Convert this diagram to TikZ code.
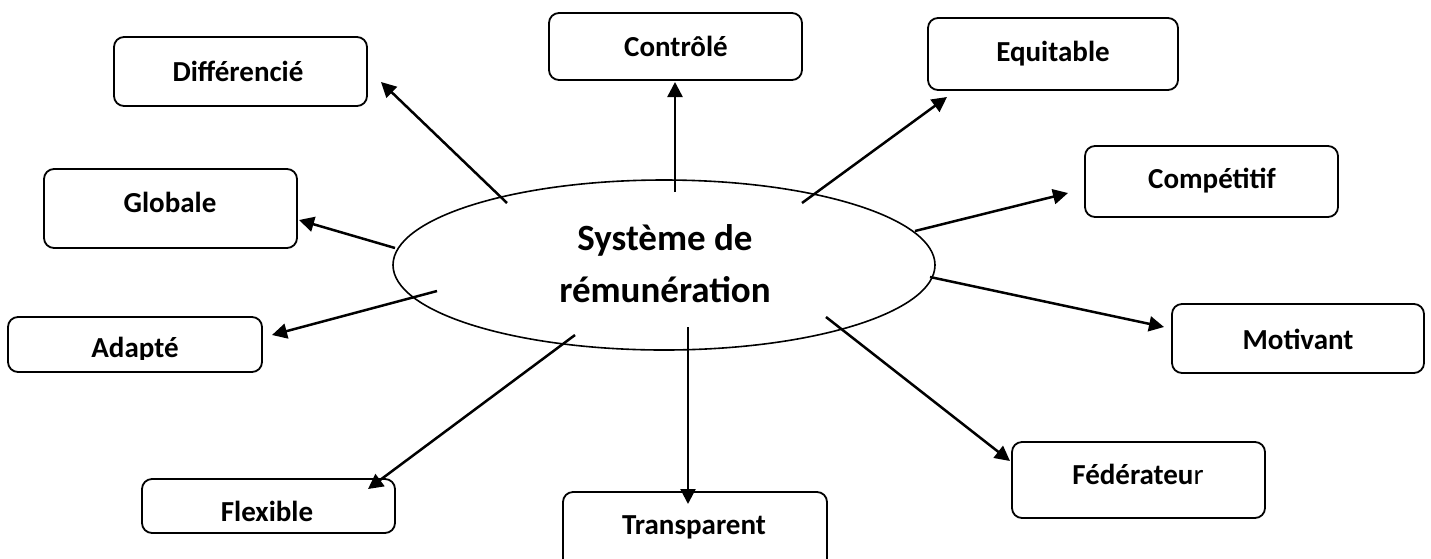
\documentclass[tikz,border=0pt]{standalone}
\usepackage{fontspec}
\setmainfont{Carlito}
\usetikzlibrary{arrows.meta,shapes.geometric}
\begin{document}
\begin{tikzpicture}[x=1pt,y=-1pt,
  box/.style={draw, line width=1.8pt, rounded corners=10pt, inner sep=0pt},
  lbl/.style={font=\fontsize{29}{35}\selectfont\bfseries, inner sep=0pt, anchor=base},
  big/.style={font=\fontsize{37}{50}\selectfont\bfseries, inner sep=0pt, anchor=base},
  conn/.style={line width=2.5pt, -{Triangle[length=15pt,width=15pt]}}]
\clip (0,0) rectangle (1431,558);
\fill[white] (0,0) rectangle (1431,558);
% boxes
\node[box, minimum width=253pt, minimum height=69pt] (bDiff) at (240.5,71.5) {};
\node[box, minimum width=253pt, minimum height=67pt] (bCon) at (675.5,46.5) {};
\node[box, minimum width=250pt, minimum height=72pt] (bEqu) at (1053,54) {};
\node[box, minimum width=253pt, minimum height=71pt] (bCom) at (1211.5,181.5) {};
\node[box, minimum width=253pt, minimum height=79pt] (bGlo) at (170.5,208.5) {};
\node[box, minimum width=254pt, minimum height=55pt] (bAda) at (135,344.5) {};
\node[box, minimum width=252pt, minimum height=69pt] (bMot) at (1298,338.5) {};
\node[box, minimum width=253pt, minimum height=76pt] (bFed) at (1138.5,480) {};
\node[box, minimum width=264pt, minimum height=83pt] (bTra) at (695,533.5) {};
\node[box, minimum width=253pt, minimum height=54pt] (bFle) at (268.5,506) {};
% central ellipse
\node[draw, ellipse, line width=1.6pt, minimum width=542pt, minimum height=170pt, inner sep=0pt] (sys) at (664,265) {};
\node[big] (tSys1) at (665,250) {Système de};
\node[big] (tSys2) at (665,302) {rémunération};
% connector ends
\coordinate (s1) at (507,203);  \coordinate (e1) at (381,82);
\coordinate (s2) at (675,192);  \coordinate (e2) at (675,82);
\coordinate (s3) at (802,203);  \coordinate (e3) at (947,97);
\coordinate (s4) at (915,231);  \coordinate (e4) at (1068,193);
\coordinate (s5) at (395,248);  \coordinate (e5) at (299,220);
\coordinate (s6) at (437,291);  \coordinate (e6) at (272,335);
\coordinate (s7) at (930,277);  \coordinate (e7) at (1164,327);
\coordinate (s8) at (826,317);  \coordinate (e8) at (1010,461);
\coordinate (s9) at (688,327);  \coordinate (e9) at (688,504);
\coordinate (s10) at (575,335); \coordinate (e10) at (368,489);
\foreach \i in {1,...,10} {\draw[conn] (s\i) -- (e\i);}
% labels
\node[lbl] (tDiff) at (238,81) {Différencié};
\node[lbl] (tCon) at (676,56) {Contrôlé};
\node[lbl] (tEqu) at (1053,61) {Equitable};
\node[lbl] (tCom) at (1212,188) {Compétitif};
\node[lbl] (tGlo) at (170,212) {Globale};
\begin{scope}
\clip (8,317) rectangle (262,359);
\node[lbl] (tAda) at (135,357) {Adapté};
\end{scope}
\node[lbl] (tMot) at (1298,349) {Motivant};
\node[lbl] (tFed) at (1138,484) {Fédérateu{\mdseries r}};
\node[lbl] (tTra) at (694,534) {Transparent};
\node[lbl] (tFle) at (267,521) {Flexible};
\end{tikzpicture}
\end{document}
